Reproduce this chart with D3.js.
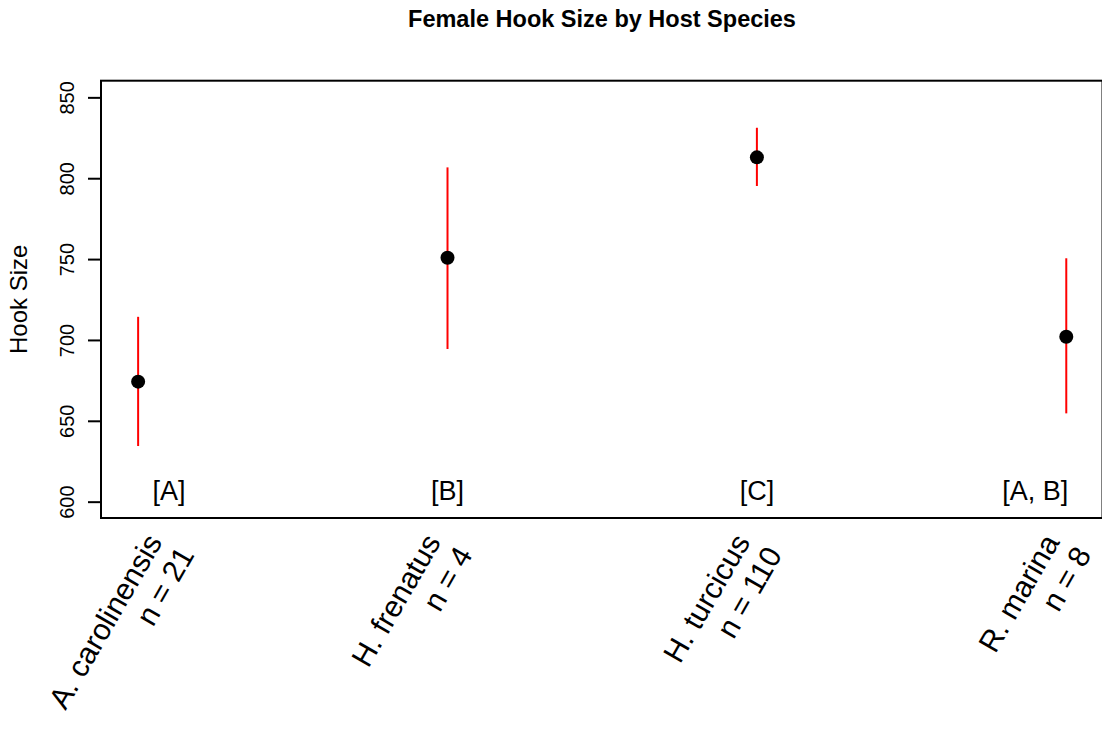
<!DOCTYPE html>
<html>
<head>
<meta charset="utf-8">
<script src="https://cdn.jsdelivr.net/npm/d3@7"></script>
<style>
  body { margin: 0; background: #fff; }
  svg { display: block; font-family: "Liberation Sans", Arial, sans-serif; }
</style>
</head>
<body>
<svg id="chart" width="1102" height="730"></svg>
<script>
const species = ["A. carolinensis", "H. frenatus", "H. turcicus", "R. marina"];
const counts = [21, 4, 110, 8];
const means = [674.2, 750.8, 812.9, 702.0];
const lower = [634.4, 694.4, 795.2, 654.6];
const upper = [714.3, 806.7, 831.2, 750.5];
const groupLetters = ["[A]", "[B]", "[C]", "[A, B]"];
const letterPos = [1.1, 2, 3, 3.9];
const labelPos = [1.1, 2, 3, 4];
const yTicks = [600, 650, 700, 750, 800, 850];

const svg = d3.select("#chart");
const pLeft = 101, pRight = 1102.5, pTop = 80.7, pBottom = 518;

const x = d3.scaleLinear().domain([0.88, 4.12]).range([pLeft, 1103.4]);
const y = d3.scaleLinear().domain([589.9, 860.3]).range([pBottom, pTop]);

// title
svg.append("text")
  .attr("x", 602).attr("y", 27)
  .attr("text-anchor", "middle")
  .attr("font-weight", "bold")
  .attr("font-size", 23.5)
  .text("Female Hook Size by Host Species");

// y axis
const yAxis = svg.append("g").attr("transform", `translate(${pLeft},0)`)
  .call(d3.axisLeft(y).tickValues(yTicks).tickSize(13).tickFormat(d3.format("d")));
yAxis.select(".domain").remove();
yAxis.selectAll(".tick line").attr("stroke", "#000").attr("stroke-width", 2);
yAxis.selectAll(".tick text").remove();
yAxis.selectAll(".tick").append("text")
  .attr("transform", "translate(-27.5,0) rotate(-90)")
  .attr("text-anchor", "middle")
  .attr("fill", "#000")
  .attr("font-size", 20)
  .text(d => d);

// y label
svg.append("text")
  .attr("transform", `translate(27,${(pTop + pBottom) / 2}) rotate(-90)`)
  .attr("text-anchor", "middle")
  .attr("font-size", 24)
  .text("Hook Size");

// error bars
svg.append("g").selectAll("line").data(species).join("line")
  .attr("x1", (d, i) => x(i + 1)).attr("x2", (d, i) => x(i + 1))
  .attr("y1", (d, i) => y(lower[i])).attr("y2", (d, i) => y(upper[i]))
  .attr("stroke", "#ff0000").attr("stroke-width", 2);

// points
svg.append("g").selectAll("circle").data(species).join("circle")
  .attr("cx", (d, i) => x(i + 1)).attr("cy", (d, i) => y(means[i]))
  .attr("r", 7).attr("fill", "#000");

// group letters
svg.append("g").selectAll("text").data(groupLetters).join("text")
  .attr("x", (d, i) => x(letterPos[i])).attr("y", y(600) - 2)
  .attr("text-anchor", "middle")
  .attr("font-size", 27)
  .text(d => d);

// box
svg.append("rect")
  .attr("x", pLeft).attr("y", pTop)
  .attr("width", pRight - pLeft).attr("height", pBottom - pTop)
  .attr("fill", "none").attr("stroke", "#000").attr("stroke-width", 2);

// x labels rotated
const lab = svg.append("g").selectAll("g").data(species).join("g")
  .attr("transform", (d, i) => `translate(${x(labelPos[i]) - 6},542) rotate(-60)`);
lab.append("text").attr("text-anchor", "end").attr("font-size", 30)
  .text(d => d);
lab.append("text").attr("text-anchor", "end").attr("font-size", 30)
  .attr("x", 5).attr("y", 34)
  .text((d, i) => `n = ${counts[i]}`);
</script>
</body>
</html>
